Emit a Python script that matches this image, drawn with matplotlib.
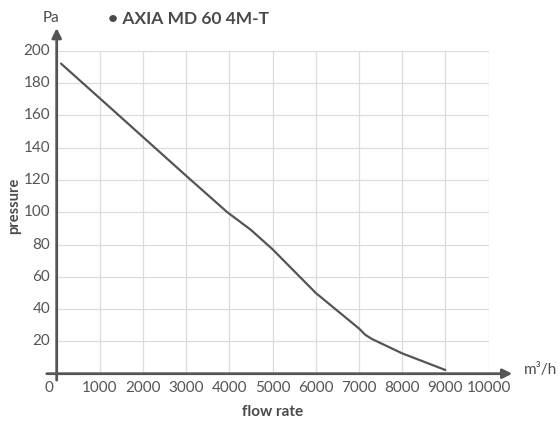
import matplotlib
matplotlib.use("Agg")
import matplotlib.pyplot as plt
from matplotlib.transforms import ScaledTranslation

# curve
flow = [100, 1000, 2000, 3000, 3950, 4200, 4500, 5000, 6000, 7000, 7150, 7300, 8000, 9000]
pressure = [192, 170.5, 146.5, 122.5, 100, 95, 89, 77, 50, 28, 24, 21.5, 12.6, 2.3]

x_ticks = [0, 1000, 2000, 3000, 4000, 5000, 6000, 7000, 8000, 9000, 10000]
y_ticks = [20, 40, 60, 80, 100, 120, 140, 160, 180, 200]

title = "\u2022 AXIA MD 60 4M-T"
axis_col = "#555555"
text_col = "#4a4a4a"

plt.rcParams["font.family"] = ["Lato", "DejaVu Sans"]

fig = plt.figure(figsize=(5.59, 4.26), dpi=100)
ax = fig.add_axes([56.7 / 559, 1 - 373.7 / 426, 431.8 / 559, 323 / 426])
ax.set_xlim(0, 10000)
ax.set_ylim(0, 200)

# grid
for x in x_ticks[1:]:
    ax.plot([x, x], [0, 200], color="#dcdcdc", lw=0.9, zorder=1)
for y in y_ticks:
    ax.plot([0, 10000], [y, y], color="#dcdcdc", lw=0.9, zorder=1)

for s in ax.spines.values():
    s.set_visible(False)
ax.set_xticks([])
ax.set_yticks([])

# axis arrows
ax.annotate("", xy=(10550, 0), xytext=(-230, 0), annotation_clip=False,
            arrowprops=dict(arrowstyle="-|>", color=axis_col, lw=2, mutation_scale=14,
                            shrinkA=0, shrinkB=0), zorder=3)
ax.annotate("", xy=(0, 214), xytext=(0, -4), annotation_clip=False,
            arrowprops=dict(arrowstyle="-|>", color=axis_col, lw=2, mutation_scale=14,
                            shrinkA=0, shrinkB=0), zorder=3)

ax.plot(flow, pressure, color=axis_col, lw=1.6, zorder=4, solid_capstyle="round")

# tick labels
for x in x_ticks:
    t = ax.text(x, -4.5, str(x), ha="center", va="top", fontsize=11, color="#555555")
    if x == 0:
        t.set_transform(t.get_transform() + ScaledTranslation(-8 / 100, 0, fig.dpi_scale_trans))
for y in y_ticks:
    ax.text(-150, y, str(y), ha="right", va="center", fontsize=11, color="#555555")

ax.text(-980, 104, "pressure", rotation=90, ha="center", va="center",
        fontsize=10.5, fontweight="bold", color=text_col)
ax.text(5000, -23.5, "flow rate", ha="center", va="center",
        fontsize=11, fontweight="bold", color=text_col)
ax.text(-130, 220, "Pa", ha="center", va="center", fontsize=11, color=text_col)
ax.text(10830, 2, "m\u00b3/h", ha="left", va="center", fontsize=11, color=text_col)
ax.text(1190, 219.5, title, ha="left", va="center", fontsize=12.5,
        fontweight="bold", color=text_col)

fig.savefig("out.png", dpi=100)
